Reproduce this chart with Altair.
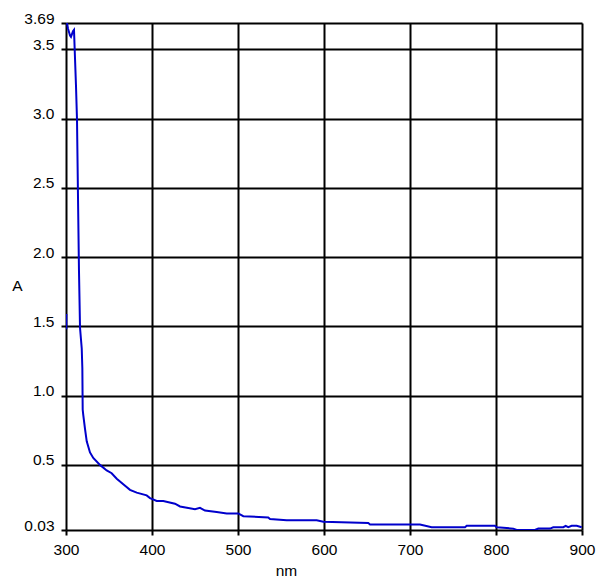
import altair as alt
import pandas as pd

# main spectrum (wavelength nm, absorbance A)
nm = [301.2, 302.3, 304.7, 305.8, 308.1, 309.3, 310.5, 311.6, 312.8, 314.0, 315.1, 316.3,
      318.3, 319.0, 319.4, 320.1, 322.1, 324.1, 327.9, 331.7, 339.5, 347.3, 353.1, 359.0,
      366.6, 374.4, 382.2, 393.8, 397.7, 405.5, 413.1, 426.7, 432.6, 450.0, 455.8, 461.6,
      475.2, 486.9, 500.3, 506.2, 535.2, 537.2, 556.6, 591.5, 599.2, 651.5, 653.5, 700.0,
      711.6, 725.2, 764.0, 765.9, 798.8, 800.8, 820.1, 824.0, 845.3, 849.2, 862.8, 866.6,
      878.3, 881.0, 884.0, 888.0, 893.8, 899.7]
absorb = [3.69, 3.65, 3.60, 3.59, 3.63, 3.64, 3.43, 3.24, 2.99, 2.41, 1.90, 1.49,
          1.34, 1.20, 0.90, 0.86, 0.76, 0.67, 0.59, 0.55, 0.50, 0.46, 0.44, 0.40,
          0.36, 0.32, 0.30, 0.28, 0.26, 0.24, 0.24, 0.22, 0.20, 0.18, 0.19, 0.17,
          0.16, 0.15, 0.15, 0.13, 0.12, 0.11, 0.10, 0.10, 0.09, 0.08, 0.07, 0.07,
          0.07, 0.05, 0.05, 0.06, 0.06, 0.05, 0.04, 0.03, 0.03, 0.04, 0.04, 0.05,
          0.05, 0.06, 0.05, 0.06, 0.06, 0.05]

# short stray segment at the left edge
stray_nm = [300.4, 300.4]
stray_a = [1.59, 1.48]

y_ticks = [0.03, 0.5, 1.0, 1.5, 2.0, 2.5, 3.0, 3.5, 3.69]
x_ticks = [300, 400, 500, 600, 700, 800, 900]

df = pd.DataFrame({"nm": nm + stray_nm, "A": absorb + stray_a,
                   "seg": ["main"] * len(nm) + ["stray"] * len(stray_nm),
                   "order": list(range(len(nm) + len(stray_nm)))})

FONT = "Liberation Sans"
FS = 15.5

chart = alt.Chart(df).mark_line(color="#0000cc", strokeWidth=2, clip=True).encode(
    x=alt.X("nm:Q", scale=alt.Scale(domain=[300, 900], nice=False, zero=False),
            axis=alt.Axis(values=x_ticks, format="d", title="nm",
                          grid=True, gridColor="black", gridWidth=2, gridOpacity=1,
                          domain=False, ticks=True, tickColor="black", tickWidth=2, tickSize=5,
                          labelFont=FONT, labelFontSize=FS, labelColor="black", labelPadding=7,
                          labelFlush=False,
                          titleFont=FONT, titleFontSize=FS, titleFontWeight="normal",
                          titleColor="black", titleX=220, titleY=40, titleAlign="center",
                          titleBaseline="middle")),
    y=alt.Y("A:Q", scale=alt.Scale(domain=[0.03, 3.69], nice=False, zero=False),
            axis=alt.Axis(values=y_ticks,
                          labelExpr="datum.value == 0.03 ? '0.03' : (datum.value == 3.69 ? '3.69' : format(datum.value, '.1f'))",
                          title="A",
                          grid=True, gridColor="black", gridWidth=2, gridOpacity=1,
                          domain=False, ticks=True, tickColor="black", tickWidth=2, tickSize=5,
                          labelFont=FONT, labelFontSize=FS, labelColor="black", labelPadding=7,
                          labelBaseline="alphabetic", labelFlush=False,
                          titleFont=FONT, titleFontSize=FS, titleFontWeight="normal",
                          titleColor="black", titleAngle=0, titleX=-49, titleY=262,
                          titleAlign="center", titleBaseline="middle")),
    detail="seg:N",
    order="order:Q",
).properties(
    width=516, height=507,
    autosize=alt.AutoSizeParams(type="none"),
    padding={"left": 58, "top": 15, "right": 20, "bottom": 48},
).configure_view(
    stroke="black", strokeWidth=2
).configure(background="white")

chart.save("out.html", embed_options={"renderer": "svg", "actions": False})
